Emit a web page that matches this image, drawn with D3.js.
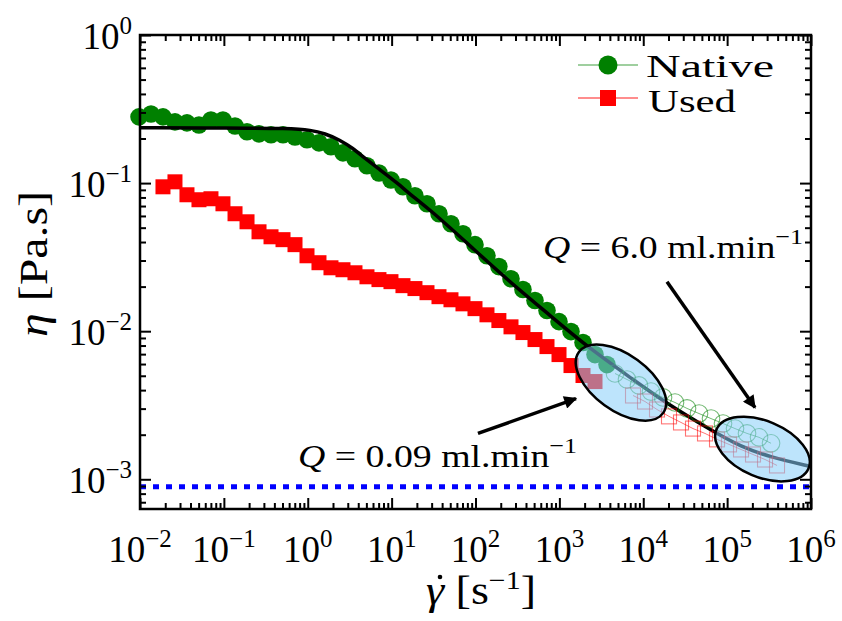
<!DOCTYPE html>
<html>
<head>
<meta charset="utf-8">
<script src="https://cdn.jsdelivr.net/npm/d3@7"></script>
<style>
body { margin: 0; background: #fff; }
text { font-family: 'Liberation Serif', 'Times New Roman', serif; fill: #000; }
</style>
</head>
<body>
<div id="chart"></div>
<script>
// values (shear rate in 1/s, viscosity in Pa.s)
const nativeShear = [0.00973, 0.01352, 0.01879, 0.02612, 0.03631, 0.05047, 0.07015, 0.0975, 0.1358, 0.1888,
  0.2624, 0.3648, 0.507, 0.7047, 0.9795, 1.361, 1.892, 2.63, 3.656, 5.082,
  7.063, 9.82, 13.65, 18.97, 26.4, 36.7, 51.0, 70.9, 98.6, 137,
  190, 265, 368, 512, 712, 990, 1376, 1913, 2659, 3696]
const nativeVisc = [0.280, 0.293, 0.280, 0.259, 0.255, 0.247, 0.267, 0.267, 0.243, 0.222,
  0.215, 0.212, 0.212, 0.205, 0.196, 0.187, 0.176, 0.160, 0.146, 0.131,
  0.117, 0.105, 0.0944, 0.0821, 0.0725, 0.0621, 0.0532, 0.0455, 0.0384, 0.0323,
  0.0273, 0.0226, 0.0191, 0.0161, 0.0138, 0.0116, 0.00994, 0.00838, 0.00695, 0.00595]

const usedShear = [0.01879, 0.02612, 0.03631, 0.05047, 0.07015, 0.0975, 0.1358, 0.1888, 0.2624, 0.3648,
  0.507, 0.7047, 0.9795, 1.361, 1.892, 2.63, 3.656, 5.082, 7.063, 9.82,
  13.65, 18.97, 26.4, 36.7, 51.0, 70.9, 98.6, 137, 190, 265,
  368, 512, 712, 990, 1376, 1913, 2659]
const usedVisc = [0.0944, 0.102, 0.0834, 0.0772, 0.0784, 0.0725, 0.0621, 0.0548, 0.0469, 0.0434,
  0.0415, 0.0384, 0.0323, 0.029, 0.0268, 0.026, 0.0248, 0.0233, 0.0223, 0.0216,
  0.0203, 0.0194, 0.0182, 0.0171, 0.0163, 0.0153, 0.0142, 0.0129, 0.0118, 0.0107,
  0.00979, 0.00878, 0.00787, 0.00695, 0.00586, 0.00502, 0.00457]

// capillary (microfluidic) points, open markers
const nativeCapShear = [4603, 6400, 8895, 12370, 17200, 23910, 33240, 46220, 64260, 89340, 124200, 172700, 240100, 333800]
const nativeCapVisc = [0.00518, 0.00472, 0.0043, 0.00391, 0.00357, 0.0033, 0.00301, 0.00278, 0.00257, 0.00238, 0.0022, 0.00204, 0.00192, 0.00175]
const usedCapShear = [7550, 10490, 14590, 20280, 28190, 39190, 54490, 75750, 105300, 146400, 203500, 283000, 393500]
const usedCapVisc = [0.00368, 0.00335, 0.00296, 0.00266, 0.00242, 0.0022, 0.00204, 0.00186, 0.00172, 0.00159, 0.00147, 0.00136, 0.00124]

// fit curve
const fitShear = [0.01, 0.118, 0.6, 1.1, 1.6, 2.4, 3.5, 4.56, 7.27, 11.6, 18, 28.7, 85.9, 238, 712, 2134, 7550, 18200, 67900, 142600, 324500, 1e6]
const fitVisc = [0.236, 0.236, 0.234, 0.228, 0.216, 0.196, 0.171, 0.150, 0.123, 0.1005, 0.0809, 0.0661, 0.0378, 0.0223, 0.0133, 0.00787, 0.00472, 0.0033, 0.00211, 0.00167, 0.00141, 0.00122]

const waterVisc = 8.9e-4

const xTickExp = [-2, -1, 0, 1, 2, 3, 4, 5, 6]
const yTickExp = [-3, -2, -1, 0]

// annotations (data coordinates)
const ellipseShear = [5430, 264000]
const ellipseVisc = [0.0045, 0.0016]
const arrowFromShear = [107, 19190]
const arrowFromVisc = [0.00204, 0.0216]
const arrowToShear = [1578, 214800]
const arrowToVisc = [0.00351, 0.00305]

svgWidth = 842
svgHeight = 621
margin = { top: 35, left: 140, right: 31, bottom: 112 }
width = svgWidth - margin.left - margin.right
height = svgHeight - margin.top - margin.bottom

svg = d3.select('#chart').append('svg')
  .attr('width', svgWidth)
  .attr('height', svgHeight)
  .style('background', '#fff')

chartGroup = svg.append('g')
  .attr('transform', `translate(${margin.left},${margin.top})`)

xScale = d3.scaleLog().domain([1e-2, 1e6]).range([0, width])
yScale = d3.scaleLog().domain([6.3e-4, 1]).range([height, 0])

zip = (xs, ys) => xs.map((x, i) => ({ x: x, y: ys[i] }))
nativeData = zip(nativeShear, nativeVisc)
usedData = zip(usedShear, usedVisc)
nativeCap = zip(nativeCapShear, nativeCapVisc)
usedCap = zip(usedCapShear, usedCapVisc)
fitData = zip(fitShear, fitVisc)

// water reference
chartGroup.append('line')
  .attr('x1', 0).attr('x2', width)
  .attr('y1', yScale(waterVisc)).attr('y2', yScale(waterVisc))
  .attr('stroke', '#0000ff').attr('stroke-width', 5)
  .attr('stroke-dasharray', '6,7')

lineGen = d3.line().x(d => xScale(d.x)).y(d => yScale(d.y))

// used, filled squares
chartGroup.append('path').datum(usedData)
  .attr('d', lineGen).attr('fill', 'none').attr('stroke', 'red').attr('stroke-width', 1)
chartGroup.selectAll('.usedSq').data(usedData).enter()
  .append('rect')
  .attr('x', d => xScale(d.x) - 7.5).attr('y', d => yScale(d.y) - 7.5)
  .attr('width', 15).attr('height', 15)
  .attr('fill', '#ff0000')

// native, filled circles
chartGroup.append('path').datum(nativeData)
  .attr('d', lineGen).attr('fill', 'none').attr('stroke', 'green').attr('stroke-width', 1)
chartGroup.selectAll('.nativeDot').data(nativeData).enter()
  .append('circle')
  .attr('cx', d => xScale(d.x)).attr('cy', d => yScale(d.y))
  .attr('r', 8.8)
  .attr('fill', '#008000')

// fit
chartGroup.append('path').datum(fitData)
  .attr('d', d3.line().x(d => xScale(d.x)).y(d => yScale(d.y)).curve(d3.curveBasis))
  .attr('fill', 'none').attr('stroke', '#000').attr('stroke-width', 3.5)

// open markers
chartGroup.append('path').datum(nativeCap)
  .attr('d', lineGen).attr('fill', 'none').attr('stroke', '#008000').attr('stroke-opacity', 0.55).attr('stroke-width', 1)
chartGroup.selectAll('.nativeCap').data(nativeCap).enter()
  .append('circle')
  .attr('cx', d => xScale(d.x)).attr('cy', d => yScale(d.y))
  .attr('r', 8.8)
  .attr('fill', 'none').attr('stroke', '#008000').attr('stroke-opacity', 0.55).attr('stroke-width', 1.1)
chartGroup.append('path').datum(usedCap)
  .attr('d', lineGen).attr('fill', 'none').attr('stroke', '#ff0000').attr('stroke-opacity', 0.55).attr('stroke-width', 1)
chartGroup.selectAll('.usedCap').data(usedCap).enter()
  .append('rect')
  .attr('x', d => xScale(d.x) - 7.5).attr('y', d => yScale(d.y) - 7.5)
  .attr('width', 15).attr('height', 15)
  .attr('fill', 'none').attr('stroke', '#ff0000').attr('stroke-opacity', 0.55).attr('stroke-width', 1.1)

// ellipses
ellipseSize = [{ rx: 52, ry: 28, a: 36 }, { rx: 50, ry: 28, a: 23 }]
ellipseShear.forEach(function (s, i) {
  chartGroup.append('ellipse')
    .attr('transform', `translate(${xScale(s)},${yScale(ellipseVisc[i])}) rotate(${ellipseSize[i].a})`)
    .attr('rx', ellipseSize[i].rx).attr('ry', ellipseSize[i].ry)
    .attr('fill', '#87cefa').attr('fill-opacity', 0.55)
    .attr('stroke', '#000').attr('stroke-width', 2.5)
})

// arrows
svg.append('defs').append('marker')
  .attr('id', 'arrowHead')
  .attr('viewBox', '0 0 10 10')
  .attr('refX', 9).attr('refY', 5)
  .attr('markerWidth', 17).attr('markerHeight', 13)
  .attr('markerUnits', 'userSpaceOnUse')
  .attr('orient', 'auto')
  .append('path').attr('d', 'M0,0L10,5L0,10z').attr('fill', '#000')

arrowFromShear.forEach(function (s, i) {
  chartGroup.append('line')
    .attr('x1', xScale(s)).attr('y1', yScale(arrowFromVisc[i]))
    .attr('x2', xScale(arrowToShear[i])).attr('y2', yScale(arrowToVisc[i]))
    .attr('stroke', '#000').attr('stroke-width', 3.5)
    .attr('marker-end', 'url(#arrowHead)')
})

// axes: inward ticks on all four sides
xTicks = xScale.ticks()
yTicks = yScale.ticks()
isMajor = d => Math.abs(Math.log10(d) - Math.round(Math.log10(d))) < 1e-6

function drawTicks(axisFn, scale, ticks, size, transform) {
  a = chartGroup.append('g')
    .attr('transform', transform)
    .call(axisFn(scale).tickValues(ticks).tickSizeInner(-size).tickSizeOuter(0).tickFormat(''))
  a.select('.domain').remove()
  a.selectAll('line').attr('stroke', '#000').attr('stroke-width', 2)
}
xMinor = xTicks.filter(d => !isMajor(d))
xMajor = xTicks.filter(isMajor)
yMinor = yTicks.filter(d => !isMajor(d) && d >= 6.3e-4)
yMajor = yTicks.filter(isMajor)

drawTicks(d3.axisBottom, xScale, xMinor, 6, `translate(0,${height})`)
drawTicks(d3.axisBottom, xScale, xMajor, 11, `translate(0,${height})`)
drawTicks(d3.axisTop, xScale, xMinor, 6, 'translate(0,0)')
drawTicks(d3.axisTop, xScale, xMajor, 11, 'translate(0,0)')
drawTicks(d3.axisLeft, yScale, yMinor, 6, 'translate(0,0)')
drawTicks(d3.axisLeft, yScale, yMajor, 11, 'translate(0,0)')
drawTicks(d3.axisRight, yScale, yMinor, 6, `translate(${width},0)`)
drawTicks(d3.axisRight, yScale, yMajor, 11, `translate(${width},0)`)

chartGroup.append('rect')
  .attr('width', width).attr('height', height)
  .attr('fill', 'none').attr('stroke', '#000').attr('stroke-width', 2.5)

expText = e => (e < 0 ? '\u2212' + (-e) : '' + e)

xTickExp.forEach(function (e) {
  t = chartGroup.append('text')
    .attr('x', xScale(Math.pow(10, e)))
    .attr('y', height + 53)
    .attr('text-anchor', 'middle')
    .style('font-size', '37px')
  t.append('tspan').text('10')
  t.append('tspan').attr('dy', -15).style('font-size', '25px').text(expText(e))
})

yTickExp.forEach(function (e) {
  t = chartGroup.append('text')
    .attr('x', -8)
    .attr('y', yScale(Math.pow(10, e)) + 14)
    .attr('text-anchor', 'end')
    .style('font-size', '37px')
  t.append('tspan').text('10')
  t.append('tspan').attr('dy', -15).style('font-size', '25px').text(expText(e))
})

// axis titles
yTitle = svg.append('text')
  .attr('transform', 'translate(47,264) rotate(-90)')
  .attr('text-anchor', 'middle')
  .style('font-size', '40px')
  .attr('textLength', 146).attr('lengthAdjust', 'spacingAndGlyphs')
yTitle.append('tspan').style('font-style', 'italic').text('\u03b7')
yTitle.append('tspan').text(' [Pa.s]')

xTitle = svg.append('text')
  .attr('x', 426).attr('y', 604)
  .style('font-size', '40px')
  .attr('textLength', 110).attr('lengthAdjust', 'spacingAndGlyphs')
xTitle.append('tspan').style('font-style', 'italic').text('\u03b3')
xTitle.append('tspan').text(' [s')
xTitle.append('tspan').attr('dy', -15).style('font-size', '26px').text('\u2212' + '1')
xTitle.append('tspan').attr('dy', 15).text(']')
svg.append('circle').attr('cx', 440).attr('cy', 577).attr('r', 2.3).attr('fill', '#000')

// annotation labels
function qLabel(x, y, value, len) {
  t = svg.append('text').attr('x', x).attr('y', y)
    .style('font-size', '32px')
    .attr('textLength', len).attr('lengthAdjust', 'spacingAndGlyphs')
  t.append('tspan').style('font-style', 'italic').text('Q')
  t.append('tspan').text(' = ' + value + ' ml.min')
  t.append('tspan').attr('dy', -14).style('font-size', '22px').text('\u2212' + '1')
}
qLabel(298, 467, '0.09', 279)
qLabel(543, 258, '6.0', 260)

// legend
legend = svg.append('g')
legend.append('line').attr('x1', 578).attr('x2', 638).attr('y1', 65).attr('y2', 65)
  .attr('stroke', '#008000').attr('stroke-opacity', 0.5).attr('stroke-width', 1.5)
legend.append('circle').attr('cx', 608).attr('cy', 65).attr('r', 9.5).attr('fill', '#008000')
legend.append('text').attr('x', 646).attr('y', 77).style('font-size', '32px')
  .attr('textLength', 128).attr('lengthAdjust', 'spacingAndGlyphs').text('Native')
legend.append('line').attr('x1', 578).attr('x2', 638).attr('y1', 98).attr('y2', 98)
  .attr('stroke', '#ff0000').attr('stroke-opacity', 0.6).attr('stroke-width', 1.5)
legend.append('rect').attr('x', 600).attr('y', 90).attr('width', 16).attr('height', 16).attr('fill', '#ff0000')
legend.append('text').attr('x', 648).attr('y', 112).style('font-size', '32px')
  .attr('textLength', 88).attr('lengthAdjust', 'spacingAndGlyphs').text('Used')
</script>
</body>
</html>
